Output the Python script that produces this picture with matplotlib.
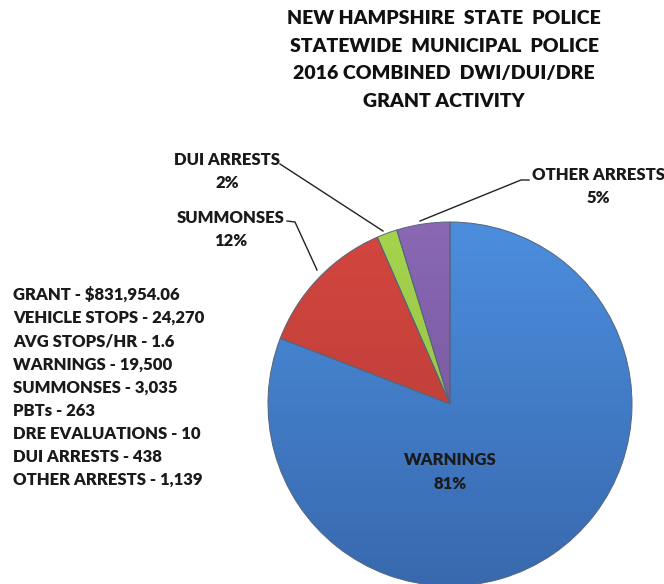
import numpy as np
import matplotlib.pyplot as plt
from matplotlib.colors import LinearSegmentedColormap

# chart data
categories = ["WARNINGS", "SUMMONSES", "DUI ARRESTS", "OTHER ARRESTS"]
counts = [19500, 3035, 438, 1139]
pct_labels = ["81%", "12%", "2%", "5%"]
top_colors = ["#4C8EDE", "#D4463F", "#A6D44E", "#8A68B4"]
bottom_colors = ["#3869AE", "#B13A37", "#8DB83F", "#6E5095"]

title_lines = ["NEW HAMPSHIRE  STATE  POLICE",
               "STATEWIDE  MUNICIPAL  POLICE",
               "2016 COMBINED  DWI/DUI/DRE",
               "GRANT ACTIVITY"]

summary_lines = ["GRANT - $831,954.06",
                 "VEHICLE STOPS - 24,270",
                 "AVG STOPS/HR - 1.6",
                 "WARNINGS - 19,500",
                 "SUMMONSES - 3,035",
                 "PBTs - 263",
                 "DRE EVALUATIONS - 10",
                 "DUI ARRESTS - 438",
                 "OTHER ARRESTS - 1,139"]

W, H = 664, 584
plt.rcParams['font.family'] = ['Lato', 'DejaVu Sans']

fig = plt.figure(figsize=(W / 100, H / 100), dpi=100)
ax = fig.add_axes([0, 0, 1, 1])

def py(y):
    # pixel row from top -> data y
    return H - y

cx, cy, r = 450, py(404), 182
wedges, _ = ax.pie(counts, colors=top_colors, startangle=90, counterclock=False,
                   center=(cx, cy), radius=r, frame=True,
                   wedgeprops=dict(edgecolor="#55657a", linewidth=0.7))
ax.set_xlim(0, W)
ax.set_ylim(0, H)
ax.set_aspect('equal')
ax.axis('off')

# soft vertical shading inside each slice
grad = np.linspace(1, 0, 256).reshape(-1, 1)
for w, c1, c2 in zip(wedges, top_colors, bottom_colors):
    cmap = LinearSegmentedColormap.from_list("g", [c2, c1])
    im = ax.imshow(grad, cmap=cmap, extent=(cx - r, cx + r, cy - r, cy + r),
                   aspect='auto', origin='upper', zorder=w.get_zorder() + 0.1)
    im.set_clip_path(w)
    w.set_facecolor('none')
    w.set_zorder(w.get_zorder() + 0.2)

txt = dict(fontweight='heavy', fontsize=12, color='#1a1a1a')

# title
for i, line in enumerate(title_lines):
    ax.text(444, py(19 + i * 27.5), line, ha='center', va='center',
            fontweight='heavy', fontsize=14, color='#111111')

# summary block on the left
for i, line in enumerate(summary_lines):
    ax.text(13, py(295 + i * 23.1), line, ha='left', va='center', **txt)

# slice labels
ax.text(450, py(460), categories[0], ha='center', va='center', **txt)
ax.text(450, py(484), pct_labels[0], ha='center', va='center', **txt)

ax.text(231, py(218), categories[1], ha='center', va='center', **txt)
ax.text(231, py(241), pct_labels[1], ha='center', va='center', **txt)

ax.text(227, py(160), categories[2], ha='center', va='center', **txt)
ax.text(227, py(183), pct_labels[2], ha='center', va='center', **txt)

ax.text(598, py(175), categories[3], ha='center', va='center', **txt)
ax.text(598, py(198), pct_labels[3], ha='center', va='center', **txt)

# leader lines
lc = dict(color='#222222', linewidth=1.0)
ax.plot([287, 295, 317], [py(221), py(222), py(270)], **lc)
ax.plot([280, 383], [py(164), py(231)], **lc)
ax.plot([529, 521, 420], [py(180), py(180), py(221)], **lc)

fig.savefig("out.png", dpi=100, facecolor='white')
